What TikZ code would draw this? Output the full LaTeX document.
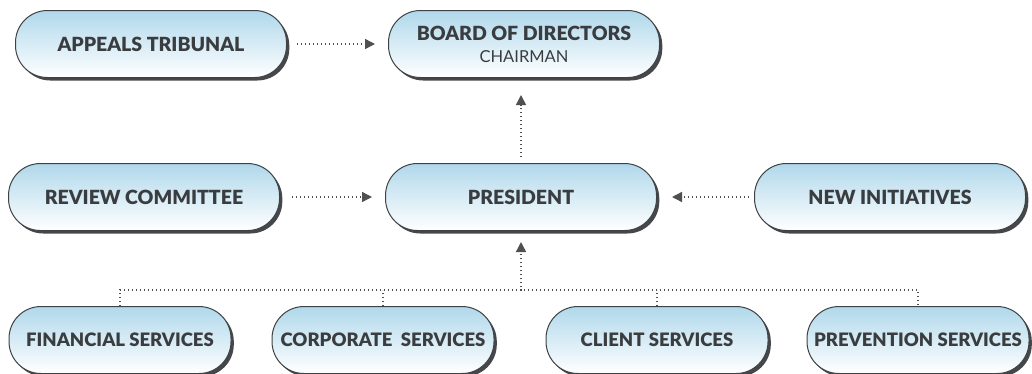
\documentclass[tikz,border=0pt]{standalone}
\usepackage{fontspec}
\setmainfont{Lato}[BoldFont = {Lato Black}]
\usetikzlibrary{arrows.meta,shadows}

\definecolor{boxline}{HTML}{3E4244}
\definecolor{boxtop}{HTML}{B0D8EB}
\definecolor{boxshadow}{HTML}{45474A}
\definecolor{labeltext}{HTML}{3A3D40}
\definecolor{linkgray}{HTML}{4E5052}

\begin{document}
\begin{tikzpicture}[
					x = 1pt, y = -1pt,
					unit/.style = {
						shape = rectangle,
						rounded corners = 32pt,
						draw = boxline,
						line width = 1pt,
						top color = boxtop,
						bottom color = white,
						general shadow = {
							fill = boxshadow,
							shadow xshift = 2.8pt,
							shadow yshift = -3pt,
						},
						minimum height = 67pt,
						text = labeltext,
						font = \fontsize{19.5}{22}\selectfont\bfseries,
						align = center,
					},
					wide/.style = {unit, minimum width = 271pt},
					narrow/.style = {unit, minimum width = 222pt, font = \fontsize{18.5}{22}\selectfont\bfseries},
					link/.style = {
						draw = linkgray,
						line width = 1.4pt,
						dash pattern = on 1.4pt off 2.6pt,
					},
					tip/.style = {link, -{Triangle[length = 10pt, width = 10pt]}},
			]
				\useasboundingbox (0, 0) rectangle (1032, 373);

				% top row
				\draw (151, 44) node (appeals) [wide] {APPEALS TRIBUNAL};
				\draw (524, 44) node (board) [wide] {BOARD OF DIRECTORS\\[0pt]{\fontsize{16.5}{18}\selectfont\mdseries CHAIRMAN}};

				% middle row
				\draw (144, 197) node (review) [wide] {REVIEW COMMITTEE};
				\draw (521, 197) node (president) [wide] {PRESIDENT};
				\draw (890, 197) node (initiatives) [wide] {NEW INITIATIVES};

				% services
				\draw (120, 340) node (financial) [narrow] {FINANCIAL SERVICES};
				\draw (383, 340) node (corporate) [narrow] {CORPORATE\ \ SERVICES};
				\draw (657, 340) node (client) [narrow] {CLIENT SERVICES};
				\draw (918, 340) node (prevention) [narrow] {PREVENTION SERVICES};

				\coordinate (bus) at (522, 290);

				\draw [tip, shorten < = 10pt, shorten > = 13pt] (appeals) -- (board);
				\draw [tip, shorten < = 12pt, shorten > = 13pt] (review) -- (president);
				\draw [tip, shorten < = 5pt, shorten > = 15pt] (initiatives) -- (president);
				\draw [tip, shorten < = 6pt, shorten > = 17pt] (president.north) -- (president.north |- board.south);

				\draw [link] (financial.north) -- (financial.north |- bus) -- (prevention.north |- bus) -- (prevention.north);
				\draw [link] (corporate.north) -- (corporate.north |- bus);
				\draw [link] (client.north) -- (client.north |- bus);
				\draw [tip, shorten > = 11pt] (bus) -- (president.south |- bus) -- (president.south);
			\end{tikzpicture}
\end{document}
